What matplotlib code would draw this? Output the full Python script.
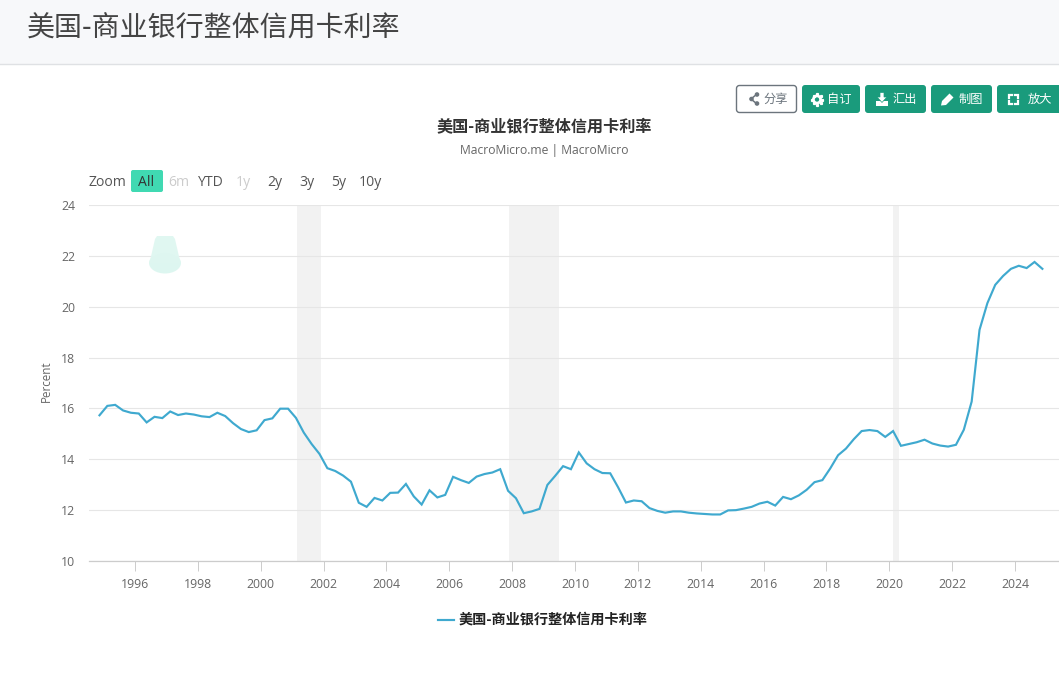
import matplotlib
matplotlib.use("Agg")
import matplotlib.pyplot as plt
from matplotlib.patches import FancyBboxPatch, Rectangle, Ellipse, Polygon, Circle

plt.rcParams['font.family'] = ['Open Sans', 'Noto Sans CJK SC', 'DejaVu Sans']

page_title = "美国-商业银行整体信用卡利率"
chart_subtitle = "MacroMicro.me | MacroMicro"
y_label = "Percent"
start_year = 1994.87
quarter_step = 0.25
values = [
    15.73, 16.10, 16.14, 15.92, 15.83, 15.80, 15.45, 15.67, 15.62, 15.88,
    15.74, 15.80, 15.76, 15.69, 15.66, 15.83, 15.70, 15.42, 15.19, 15.07,
    15.14, 15.54, 15.61, 15.99, 15.99, 15.63, 15.05, 14.60, 14.21, 13.65,
    13.54, 13.36, 13.12, 12.29, 12.13, 12.48, 12.38, 12.68, 12.69, 13.03,
    12.54, 12.22, 12.78, 12.50, 12.60, 13.31, 13.18, 13.07, 13.32, 13.42,
    13.48, 13.61, 12.76, 12.47, 11.88, 11.95, 12.05, 12.99, 13.35, 13.73,
    13.61, 14.27, 13.84, 13.61, 13.46, 13.45, 12.90, 12.30, 12.38, 12.35,
    12.08, 11.97, 11.90, 11.95, 11.95, 11.90, 11.87, 11.85, 11.83, 11.83,
    11.99, 12.00, 12.06, 12.13, 12.26, 12.33, 12.18, 12.52, 12.43, 12.58,
    12.80, 13.10, 13.18, 13.64, 14.16, 14.42, 14.79, 15.11, 15.15, 15.11,
    14.88, 15.11, 14.53, 14.60, 14.67, 14.77, 14.62, 14.54, 14.50, 14.57,
    15.16, 16.27, 19.09, 20.14, 20.86, 21.21, 21.49, 21.61, 21.52, 21.76,
    21.49,
]
recessions = [(2001.15, 2001.92), (2007.90, 2009.50), (2020.12, 2020.30)]
x_ticks = list(range(1996, 2026, 2))
y_ticks = [10, 12, 14, 16, 18, 20, 22, 24]
zoom_labels = ["Zoom", "All", "6m", "YTD", "1y", "2y", "3y", "5y", "10y"]
zoom_disabled = ["6m", "1y"]
button_labels = ["分享", "自订", "汇出", "制图", "放大"]

W, H = 1059, 677
fig = plt.figure(figsize=(W / 100, H / 100), dpi=100, facecolor="white")

bg = fig.add_axes([0, 0, 1, 1], zorder=0)
bg.set_xlim(0, W)
bg.set_ylim(H, 0)
bg.axis("off")

bg.add_patch(Rectangle((0, 0), W, 64, fc="#f7f8fa", ec="none"))
bg.plot([0, W], [64, 64], color="#dfe1e4", lw=1)
bg.text(27, 28.5, page_title, fontsize=20.15, color="#444444", va="center", ha="left",
        family=['Noto Sans CJK SC', 'DejaVu Sans'], fontweight="light")

# main plot
left, right, top, bottom = 89, 1059, 205, 561
ax = fig.add_axes([left / W, 1 - bottom / H, (right - left) / W, (bottom - top) / H], zorder=1)
ax.patch.set_alpha(0)
years = [start_year + quarter_step * i for i in range(len(values))]
ax.set_xlim(1996 + (left - 135) / 31.43, 1996 + (right - 135) / 31.43)
ax.set_ylim(10, 24)
for a, b in recessions:
    ax.axvspan(a, b, color="#f2f2f2", lw=0, zorder=1)
ax.set_yticks(y_ticks)
ax.set_xticks(x_ticks)
ax.grid(axis="y", color="#e6e6e6", lw=0.8, zorder=0)
ax.grid(axis="x", visible=False)
for s in ("top", "right", "left"):
    ax.spines[s].set_visible(False)
ax.spines["bottom"].set_color("#cccccc")
ax.spines["bottom"].set_linewidth(0.9)
ax.tick_params(axis="x", length=7, width=0.7, color="#cccccc", labelsize=8.8, labelcolor="#666666", pad=5)
ax.tick_params(axis="y", length=0, labelsize=8.8, labelcolor="#666666", pad=10)
ax.set_ylabel(y_label, fontsize=8.4, color="#666666", labelpad=0)
ax.yaxis.set_label_coords((53 - left) / (right - left), 0.505)
# watermark washes the 22 gridline out
ax.axhspan(21.9, 22.1, xmin=(135 - left) / (right - left), xmax=(350 - left) / (right - left),
           color="white", alpha=0.85, lw=0, zorder=0.5)
line, = ax.plot(years, values, color="#3fa9cf", lw=1.55, zorder=3, solid_joinstyle="miter",
                label=page_title)

# overlay
ov = fig.add_axes([0, 0, 1, 1], zorder=2)
ov.set_xlim(0, W)
ov.set_ylim(H, 0)
ov.axis("off")
ov.patch.set_alpha(0)

# watermark blob
ov.add_patch(Ellipse((165, 263), 32, 21, fc="#daf6ef", ec="none", alpha=0.9))
ov.add_patch(Polygon([(149.5, 263), (180.5, 263), (175, 239), (173, 236), (157, 236), (155, 239)],
                     fc="#dff7f1", ec="none", alpha=0.95))

ov.text(544, 126, page_title, fontsize=11.6, fontweight="bold", color="#333333", ha="center", va="center",
        family=['Noto Sans CJK SC', 'DejaVu Sans'])
ov.text(544, 150.5, chart_subtitle, fontsize=8.7, color="#666666", ha="center", va="center",
        family=['Open Sans', 'Noto Sans CJK SC'])

# zoom selector
zoom_x = [107.5, 146.5, 179, 210.5, 243, 274.5, 306.5, 338.5, 370.5]
ov.add_patch(FancyBboxPatch((131, 170), 32, 22, boxstyle="round,pad=0,rounding_size=2", fc="#40d9b2", ec="none"))
for lab, xp in zip(zoom_labels, zoom_x):
    col = "#cccccc" if lab in zoom_disabled else "#555555"
    if lab == "All":
        col = "#333333"
    ov.text(xp, 182, lab, fontsize=10.1, color=col, ha="center", va="center",
            family=['Open Sans', 'Noto Sans CJK SC'])

# toolbar buttons
green = "#1a9b7c"
btn_boxes = [(736.5, 60), (802, 58), (865, 61), (931, 61), (997, 70)]
btn_text_x = [776, 839, 905, 971, 1040]
for i, ((bx, bw), lab, tx) in enumerate(zip(btn_boxes, button_labels, btn_text_x)):
    if i == 0:
        ov.add_patch(FancyBboxPatch((bx, 85.5), bw, 27, boxstyle="round,pad=0,rounding_size=3",
                                    fc="white", ec="#6c757d", lw=1))
        col = "#6c757d"
    else:
        ov.add_patch(FancyBboxPatch((bx, 85), bw, 28, boxstyle="round,pad=0,rounding_size=3",
                                    fc=green, ec="none"))
        col = "white"
    ov.text(tx, 99.5, lab, fontsize=8.8, color=col, ha="center", va="center",
            family=['Noto Sans CJK SC', 'DejaVu Sans'])

# share icon
ov.plot([757, 751, 757], [94, 99, 104], color="#6c757d", lw=1.1)
for cx, cy in [(757, 94.5), (751.5, 99), (757, 103.5)]:
    ov.add_patch(Circle((cx, cy), 2.3, fc="#6c757d", ec="none"))
# gear icon
ov.add_patch(Circle((817, 99.5), 3.6, fc="none", ec="white", lw=2.0))
ov.plot([817, 817, 811.8, 822.2, 813.5, 820.5, 813.5, 820.5], [94, 105, 99.5, 99.5, 96, 103, 103, 96],
        ls="none", marker="s", ms=1.3, color="white")
# download icon
ov.add_patch(Rectangle((876, 101), 12, 5, fc="white", ec="none"))
ov.add_patch(Polygon([(880, 92.5), (884, 92.5), (884, 97), (887, 97), (882, 102.5), (877, 97), (880, 97)],
                     fc="white", ec="#1a9b7c", lw=0.5))
# pencil icon
ov.add_patch(Polygon([(941, 105.5), (942, 101), (949.5, 93.5), (953.5, 97.5), (946, 105)], fc="white", ec="none"))
# fullscreen icon
for sx, sy in [(1009, 94.5), (1017.5, 94.5), (1009, 104), (1017.5, 104)]:
    dx = 3 if sx < 1013 else -3
    dy = 3 if sy < 99 else -3
    ov.plot([sx + dx, sx, sx], [sy, sy, sy + dy], color="white", lw=1.6, solid_joinstyle="miter")

# legend
ov.plot([438, 454], [619.5, 619.5], color=line.get_color(), lw=1.55)
ov.text(459, 620, page_title, fontsize=10.2, fontweight="bold", color="#222222", ha="left", va="center",
        family=['Noto Sans CJK SC', 'DejaVu Sans'])

fig.savefig("out.png", dpi=100, facecolor="white")
